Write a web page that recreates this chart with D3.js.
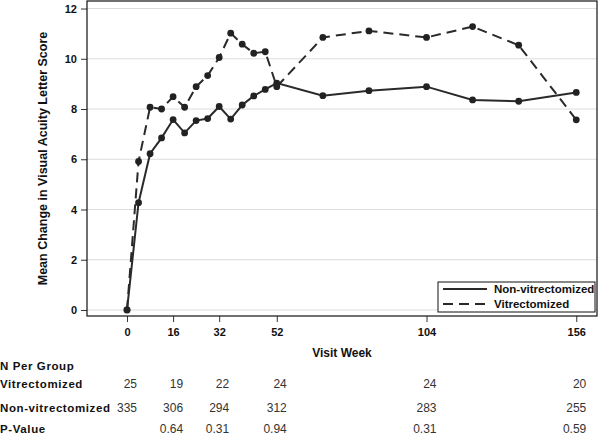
<!DOCTYPE html>
<html><head><meta charset="utf-8">
<script src="https://cdn.jsdelivr.net/npm/d3@7/dist/d3.min.js"></script>
<style>
body{margin:0;background:#fff;}
svg text{font-family:"Liberation Sans",Arial,sans-serif;}
</style></head>
<body><svg id="c" width="601" height="436"></svg>
<script>
const weeksNon = [0,4,8,12,16,20,24,28,32,36,40,44,48,52,68,84,104,120,136,156];
const valuesNon = [0,4.27,6.22,6.85,7.58,7.05,7.54,7.62,8.10,7.60,8.16,8.52,8.78,9.03,8.53,8.73,8.89,8.36,8.31,8.66];
const weeksVit = [0,4,8,12,16,20,24,28,32,36,40,44,48,52,68,84,104,120,136,156];
const valuesVit = [0,5.91,8.07,8.00,8.49,8.07,8.89,9.33,10.05,11.02,10.58,10.22,10.28,8.89,10.85,11.11,10.85,11.28,10.54,7.57];
const xTicks = [0,16,32,52,104,156];
const yTicks = [0,2,4,6,8,10,12];
const tableWeeks = [0,16,32,52,104,156];
const nVit = ["25","19","22","24","24","20"];
const nNon = ["335","306","294","312","283","255"];
const pValues = ["","0.64","0.31","0.94","0.31","0.59"];
const seriesNames = ["Non-vitrectomized","Vitrectomized"];

const svg = d3.select("#c");
const L=87, R=597, T=1, B=316;
const x = d3.scaleLinear().domain([-13.9,163.2]).range([L,R]);
const y = d3.scaleLinear().domain([-0.24,12.3]).range([B,T]);

// grid
svg.append("g").selectAll("line").data(yTicks).join("line")
  .attr("x1",L).attr("x2",R).attr("y1",d=>y(d)).attr("y2",d=>y(d))
  .attr("stroke","#dcdcdc").attr("stroke-width",1);

// axes
const ya = svg.append("g").attr("transform",`translate(${L},0)`)
  .call(d3.axisLeft(y).tickValues(yTicks).tickSize(6).tickPadding(4).tickFormat(d3.format("d")));
const xa = svg.append("g").attr("transform",`translate(0,${B})`)
  .call(d3.axisBottom(x).tickValues(xTicks).tickSize(6).tickPadding(6).tickFormat(d3.format("d")));
[ya,xa].forEach(a=>{
  a.select(".domain").remove();
  a.selectAll("line").attr("stroke","#333");
  a.selectAll("text").attr("font-size","11px").attr("font-weight","bold").attr("fill","#111")
    .attr("font-family","'Liberation Sans',Arial,sans-serif");
});

// frame
svg.append("rect").attr("x",L).attr("y",T).attr("width",R-L).attr("height",B-T)
  .attr("fill","none").attr("stroke","#111").attr("stroke-width",1.2);

// labels
svg.append("text").attr("transform",`translate(47,${(T+B)/2}) rotate(-90)`)
  .attr("text-anchor","middle").attr("font-size","12.5px").attr("font-weight","bold").attr("fill","#111")
  .text("Mean Change in Visual Acuity Letter Score");
svg.append("text").attr("x",(L+R)/2).attr("y",357).attr("text-anchor","middle")
  .attr("font-size","12px").attr("font-weight","bold").attr("fill","#111").text("Visit Week");

// lines
const line = d3.line().x(d=>x(d[0])).y(d=>y(d[1]));
const dNon = weeksNon.map((w,i)=>[w,valuesNon[i]]);
const dVit = weeksVit.map((w,i)=>[w,valuesVit[i]]);
svg.append("path").datum(dVit).attr("d",line).attr("fill","none").attr("stroke","#2a2a2a")
  .attr("stroke-width",2).attr("stroke-dasharray","10,6");
svg.append("path").datum(dNon).attr("d",line).attr("fill","none").attr("stroke","#2a2a2a")
  .attr("stroke-width",2);
[dVit,dNon].forEach(ds=>{
  svg.append("g").selectAll("circle").data(ds).join("circle")
    .attr("cx",d=>x(d[0])).attr("cy",d=>y(d[1])).attr("r",3.4).attr("fill","#222");
});

// legend
const lg = svg.append("g");
lg.append("rect").attr("x",438).attr("y",282).attr("width",157).attr("height",30)
  .attr("fill","#fff").attr("stroke","#111").attr("stroke-width",1);
seriesNames.forEach((s,i)=>{
  const yy = 289+i*15;
  lg.append("line").attr("x1",443).attr("x2",487).attr("y1",yy).attr("y2",yy)
    .attr("stroke","#2a2a2a").attr("stroke-width",2).attr("stroke-dasharray",i?"10,6":null);
  lg.append("text").attr("x",494).attr("y",yy+4).attr("font-size","11.5px").attr("font-weight","bold")
    .attr("fill","#111").text(s);
});

// table
const rowY = [370,388,412,433];
const bold = (t,yy)=>svg.append("text").attr("x",0).attr("y",yy).attr("font-size","11.5px")
  .attr("font-weight","bold").attr("letter-spacing","0.6px").attr("fill","#111").text(t);
bold("N Per Group",rowY[0]);
bold("Vitrectomized",rowY[1]);
bold("Non-vitrectomized",rowY[2]);
bold("P-Value",rowY[3]);
[nVit,nNon,pValues].forEach((arr,r)=>{
  svg.append("g").selectAll("text").data(arr).join("text")
    .attr("x",(d,i)=>x(tableWeeks[i])+10).attr("y",rowY[r+1]).attr("text-anchor","end")
    .attr("font-family","'Liberation Sans Narrow','Arial Narrow',sans-serif")
    .attr("font-size","12px").attr("fill","#333").text(d=>d);
});
</script></body></html>
